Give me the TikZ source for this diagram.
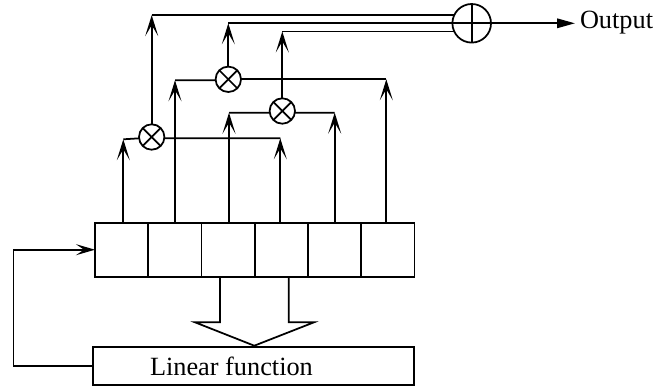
\documentclass[tikz,border=0pt]{standalone}
\usepackage{fontspec}
\setmainfont{Liberation Serif}
\usetikzlibrary{arrows.meta}
\tikzset{
  wire/.style={line width=1.75pt,line join=miter},
  tap/.style={wire,-{Stealth[length=21pt,width=13pt,inset=11pt]}},
  feed/.style={wire,-{Stealth[length=19pt,width=11pt,inset=8pt]}},
  outarrow/.style={wire,-{Triangle[length=18pt,width=9.5pt]}},
  cellbox/.style={draw,line width=1.75pt,minimum width=53.2pt,minimum height=54pt,inner sep=0pt,outer sep=0pt,anchor=north west},
  fnbox/.style={draw,line width=1.75pt,minimum width=321pt,minimum height=38.3pt,inner sep=0pt,outer sep=0pt,anchor=north west},
  mult/.style={draw,circle,fill=white,line width=1.75pt,minimum size=25.4pt,inner sep=0pt,outer sep=0pt},
  adder/.style={draw,circle,line width=1.75pt,minimum size=38.6pt,inner sep=0pt,outer sep=0pt},
  label/.style={inner sep=0pt,outer sep=0pt,font=\fontsize{26.3}{30}\selectfont,anchor=base west}
}
\begin{document}
\begin{tikzpicture}[x=1pt,y=-1pt]
\useasboundingbox (0,0) rectangle (655,388);
% register
\node[cellbox] (r1) at (95,222.7) {};
\node[cellbox] (r2) at (148.2,222.7) {};
\node[cellbox] (r3) at (201.5,222.7) {};
\node[cellbox] (r4) at (254.7,222.7) {};
\node[cellbox] (r5) at (308,222.7) {};
\node[cellbox] (r6) at (361.2,222.7) {};
\node[fnbox] (fn) at (92.7,346.7) {};
\node[label] (fnt) at (150,375) {Linear function};
% gates
\node[mult] (m1) at (151.7,137) {};
\node[mult] (m2) at (228.3,79.3) {};
\node[mult] (m3) at (282.3,111) {};
\node[adder] (sum) at (471.7,23.3) {};
\node[label] (out) at (580,28.5) {Output};
% crosses in gates
\foreach \m in {m1,m2,m3}{
  \draw[wire] (\m.45) -- (\m.225);
  \draw[wire] (\m.135) -- (\m.315);
}
\draw[wire] (sum.north) -- (sum.south);
\draw[wire] (sum.west) -- (sum.east);
% corner points
\coordinate (t1) at (123.3,139.3);
\coordinate (t2) at (175,80.3);
\coordinate (t3) at (229,112.7);
\coordinate (t4) at (280.3,138.3);
\coordinate (t5) at (334.7,112.7);
\coordinate (t6) at (386.3,79.3);
\coordinate (k1) at (m1 |- sum.155);
\coordinate (k2) at (m2 |- sum.west);
\coordinate (k3) at (m3 |- sum.205);
\coordinate (o) at (575,23.3);
% taps
\foreach \c/\t in {r1/t1,r2/t2,r3/t3,r4/t4,r5/t5,r6/t6}{
  \draw[tap] (\c.north -| \t) -- (\t);
}
% gate inputs
\draw[wire] (m1.186) -- (t1);
\draw[wire] (m1.-6) -- (t4);
\draw[wire] (m2.184) -- (t2);
\draw[wire] (m2.east) -- (t6);
\draw[wire] (m3.188) -- (t3);
\draw[wire] (m3.-8) -- (t5);
% gate outputs
\draw[tap] (m1.north) -- (k1);
\draw[tap] (m2.north) -- (k2);
\draw[tap] (m3.north) -- (k3);
\draw[wire] (k1) -- (sum.155);
\draw[wire] (k2) -- (sum.west);
\draw[wire] (k3) -- (sum.205);
\draw[outarrow] (sum.east) -- (o);
% feedback
\coordinate (fb) at (13.5,366);
\draw[feed] (fn.west |- fb) -- (fb) |- (r1.west);
% hollow arrow
\draw[wire,line join=miter] (220,276.7) -- (220,322.3) -- (195,322.3) -- (254.3,345.7) -- (314,322.3) -- (288.7,322.3) -- (288.7,276.7);
\end{tikzpicture}
\end{document}
